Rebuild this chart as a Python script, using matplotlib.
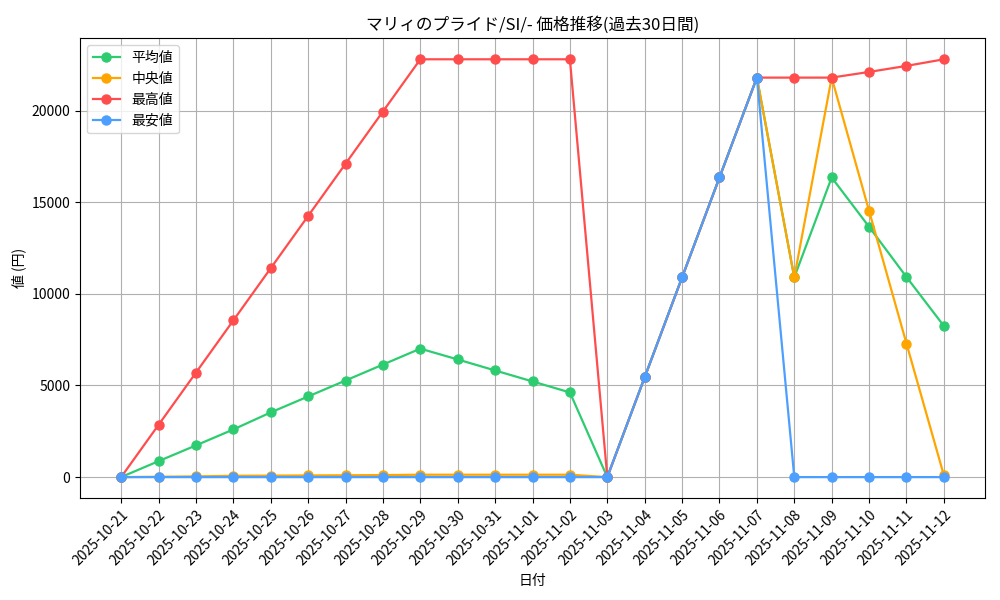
import matplotlib
matplotlib.use("Agg")
import matplotlib.pyplot as plt

plt.rcParams['font.family'] = ['Noto Sans CJK JP', 'DejaVu Sans']

dates = ["2025-10-21", "2025-10-22", "2025-10-23", "2025-10-24", "2025-10-25",
         "2025-10-26", "2025-10-27", "2025-10-28", "2025-10-29", "2025-10-30",
         "2025-10-31", "2025-11-01", "2025-11-02", "2025-11-03", "2025-11-04",
         "2025-11-05", "2025-11-06", "2025-11-07", "2025-11-08", "2025-11-09",
         "2025-11-10", "2025-11-11", "2025-11-12"]

avg_vals = [0, 870, 1730, 2600, 3530, 4400, 5270, 6140, 7010, 6420, 5820, 5220, 4620,
            0, 5450, 10900, 16350, 21800, 10900, 16350, 13660, 10920, 8250]
median_vals = [0, 20, 40, 70, 80, 90, 100, 110, 130, 130, 130, 130, 130,
               0, 5450, 10900, 16350, 21800, 10900, 21800, 14530, 7290, 100]
max_vals = [0, 2850, 5700, 8550, 11400, 14250, 17100, 19950, 22800, 22800, 22800, 22800, 22800,
            0, 5450, 10900, 16350, 21800, 21800, 21800, 22110, 22440, 22800]
min_vals = [0, 0, 0, 0, 0, 0, 0, 0, 0, 0, 0, 0, 0,
            0, 5450, 10900, 16350, 21800, 0, 0, 0, 0, 0]

series = [
    ("平均値", avg_vals, "#2ecc71"),
    ("中央値", median_vals, "#ffa500"),
    ("最高値", max_vals, "#ff4d4d"),
    ("最安値", min_vals, "#4d9fff"),
]

fig, ax = plt.subplots(figsize=(10, 6), dpi=100)
x = list(range(len(dates)))
for label, vals, color in series:
    ax.plot(x, vals, marker="o", color=color, label=label, linewidth=1.6, markersize=6.5)

ax.set_xticks(x)
ax.set_xticklabels(dates, rotation=45, ha="right", rotation_mode="anchor")
ax.set_title("マリィのプライド/SI/- 価格推移(過去30日間)")
ax.set_xlabel("日付")
ax.set_ylabel("値 (円)")
ax.grid(True)
ax.legend(loc="upper left")
fig.subplots_adjust(left=0.08, right=0.985, top=0.936, bottom=0.17)
fig.savefig("out.png")
